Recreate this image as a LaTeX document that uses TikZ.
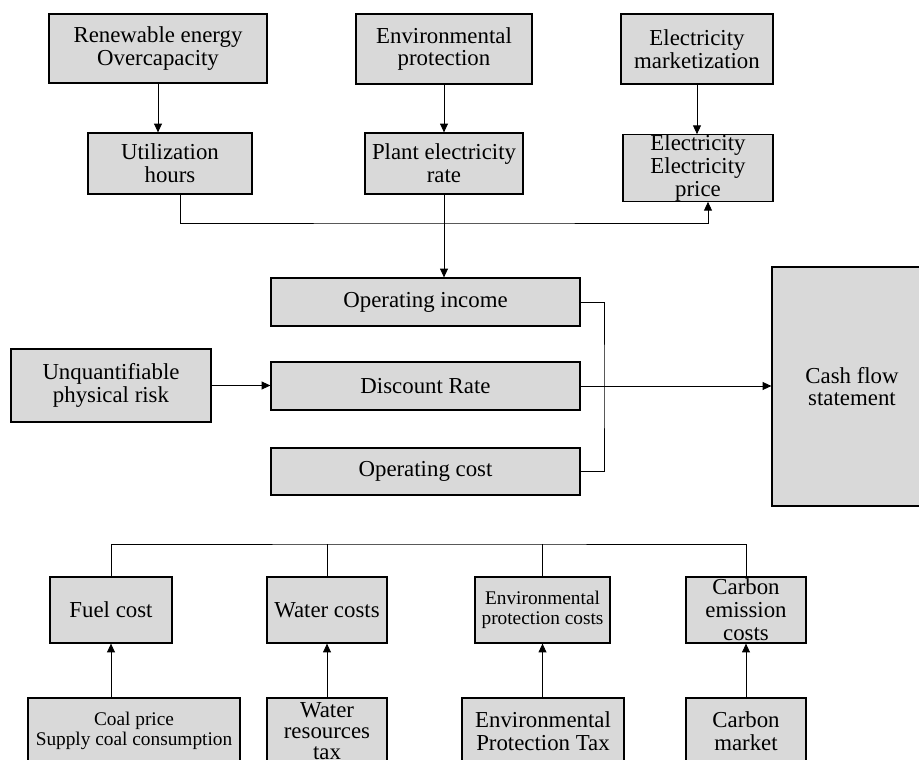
\documentclass[tikz,border=0pt]{standalone}
\usepackage{fontspec}
\setmainfont{Liberation Serif}
\usetikzlibrary{arrows.meta}

\definecolor{boxgray}{RGB}{217,217,217}
\newcommand{\normalbox}{\fontsize{13}{13}\selectfont}
\newcommand{\smallbox}{\fontsize{11}{11.5}\selectfont}

\begin{document}
\begin{tikzpicture}[x=0.02cm, y=-0.02cm, >={Triangle[length=5pt, width=4.5pt]}, line width=0.5pt,
    box/.style={draw, line width=0.7pt, fill=boxgray, align=center, inner sep=1pt, font=\normalbox},
    sz/.style 2 args={minimum width=#1*0.2mm, minimum height=#2*0.2mm}]
    % Frame: 919 x 760 px
    \useasboundingbox (0,0) rectangle (919,760);

    % Top row: drivers
    \node[box, sz={218}{69}] (ren) at (158,48.5) {Renewable energy\\Overcapacity};
    \node[box, sz={176}{70}] (env) at (444,49) {Environmental\\protection};
    \node[box, sz={152}{70}] (mkt) at (697,49) {Electricity\\marketization};

    % Second row
    \node[box, sz={164}{61}] (util) at (170,163.5) {Utilization\\hours};
    \node[box, sz={158}{61}] (plant) at (444,163.5) {Plant electricity\\rate};
    \node[box, sz={150}{62}, inner sep=0pt] (price) at (698,168) {Electricity\\Electricity\\price};

    % Middle block
    \node[box, sz={309}{48}] (inc) at (425.5,302) {Operating income};
    \node[box, sz={309}{48}] (disc) at (425.5,386) {Discount Rate};
    \node[box, sz={309}{47}] (cost) at (425.5,471.5) {Operating cost};
    \node[box, sz={200}{73}] (risk) at (111,385.5) {Unquantifiable\\physical risk};
    \node[box, sz={160}{239}] (cash) at (852,386.5) {Cash flow\\statement};

    % Cost items
    \node[box, sz={122}{66}] (fuel) at (111,610) {Fuel cost};
    \node[box, sz={120}{66}] (water) at (327,610) {Water costs};
    \node[box, sz={135}{66}, font=\smallbox] (epc) at (542.5,610) {Environmental\\protection costs};
    \node[box, sz={120}{66}] (carb) at (746,610) {Carbon\\emission\\costs};

    % Cost sources (cut by the bottom edge)
    \node[box, sz={212}{66}, font=\smallbox] (coal) at (134,731) {Coal price\\Supply coal consumption};
    \node[box, sz={120}{66}, font=\fontsize{13}{12}\selectfont] (tax) at (327,731) {Water\\resources\\tax};
    \node[box, sz={162}{66}] (ept) at (543,731) {Environmental\\Protection Tax};
    \node[box, sz={120}{66}] (cm) at (746,731) {Carbon\\market};

    % Junctions
    \coordinate (tb) at (444,223);
    \coordinate (br) at (604,386);
    \coordinate (cb) at (430,544);

    % Top connectors
    \draw[->] (ren.south) -- (ren.south |- util.north);
    \draw[->] (env.south) -- (plant.north);
    \draw[->] (mkt.south) -- (mkt.south |- price.north);
    \draw[->] ([xshift=2mm]util.south) |- (tb) -| ([xshift=2mm]price.south);
    \draw[->] (plant.south) -- (plant.south |- inc.north);

    % Middle connectors
    \draw[->] (risk.east) -- (risk.east -| disc.west);
    \draw (inc.east) -| (br) |- (cost.east);
    \draw[->] (disc.east) -- (disc.east -| cash.west);

    % Bottom connectors
    \draw (fuel.north) |- (cb) -| (carb.north);
    \draw (water.north) -- (water.north |- cb);
    \draw (epc.north) -- (epc.north |- cb);
    \draw[->] (fuel.south |- coal.north) -- (fuel.south);
    \draw[->] (tax.north) -- (water.south);
    \draw[->] (epc.south |- ept.north) -- (epc.south);
    \draw[->] (cm.north) -- (carb.south);
\end{tikzpicture}
\end{document}
